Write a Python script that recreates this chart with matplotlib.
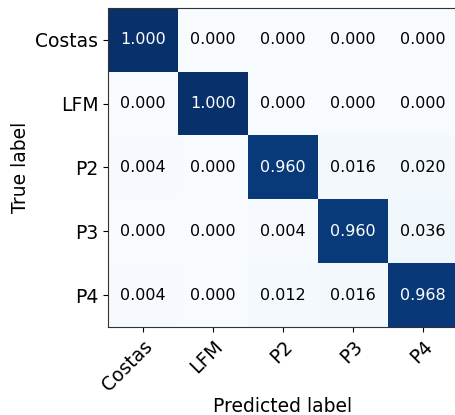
import matplotlib
matplotlib.use("Agg")
import matplotlib.pyplot as plt
import numpy as np

classes = ["Costas", "LFM", "P2", "P3", "P4"]
row_costas = [1.000, 0.000, 0.000, 0.000, 0.000]
row_lfm = [0.000, 1.000, 0.000, 0.000, 0.000]
row_p2 = [0.004, 0.000, 0.960, 0.016, 0.020]
row_p3 = [0.000, 0.000, 0.004, 0.960, 0.036]
row_p4 = [0.004, 0.000, 0.012, 0.016, 0.968]

cm = np.array([row_costas, row_lfm, row_p2, row_p3, row_p4])

fig = plt.figure(figsize=(4.56, 4.15), dpi=100)
ax = fig.add_axes([108/456, 1 - 327/415, 350/456, 319/415])
ax.imshow(cm, cmap=plt.cm.Blues, vmin=0, vmax=1, aspect="auto", interpolation="nearest")
n = len(classes)
ax.set_xticks(range(n))
ax.set_yticks(range(n))
ax.set_xticklabels(classes, rotation=45, ha="right", rotation_mode="anchor", fontsize=13.5)
ax.set_yticklabels(classes, fontsize=13.5)
for s in ax.spines.values():
    s.set_color("#333333")
thresh = cm.max() / 2.0
for i in range(n):
    for j in range(n):
        ax.text(j, i, f"{cm[i, j]:.3f}", ha="center", va="center", fontsize=11.5,
                color="white" if cm[i, j] > thresh else "black")
ax.set_ylabel("True label", fontsize=13.5)
ax.set_xlabel("Predicted label", fontsize=13.5, labelpad=2)
fig.savefig("out.png", dpi=100)
